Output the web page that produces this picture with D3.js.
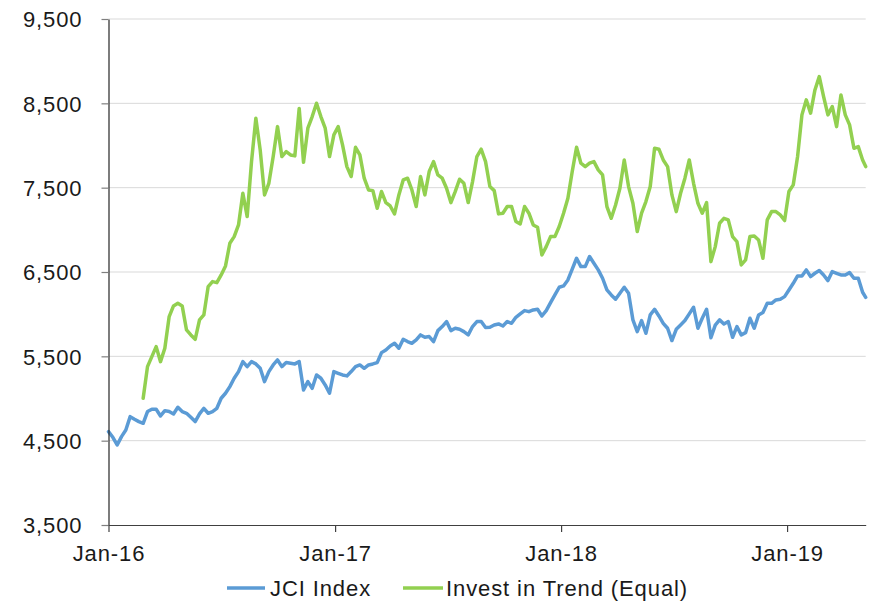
<!DOCTYPE html>
<html>
<head>
<meta charset="utf-8">
<script src="https://cdn.jsdelivr.net/npm/d3@7"></script>
<style>
  html, body { margin: 0; padding: 0; background: #fff; }
  svg { display: block; }
  text { font-family: "Liberation Sans", Arial, sans-serif; font-size: 22px; fill: #1a1a1a; letter-spacing: 0.9px; }
</style>
</head>
<body>
<svg id="chart" width="874" height="602"></svg>
<script>
// ---- data (weekly observations, Fridays from 1 Jan 2016, plus final day) ----
const firstDate = "2016-01-01";
const lastWeekly = "2019-05-04"; // exclusive end of weekly range
const finalDate = "2019-05-08";

const seriesNames = ["JCI Index", "Invest in Trend (Equal)"];

const jciValues = [
  4607,4540,4449,4548,4627,4785,4754,4726,4706,4845,
  4872,4872,4793,4856,4845,4817,4896,4845,4825,4777,
  4726,4817,4884,4825,4845,4884,5003,5062,5141,5240,
  5319,5437,5378,5437,5410,5358,5200,5319,5398,5457,
  5378,5426,5418,5410,5437,5101,5200,5121,5279,5240,
  5161,5062,5319,5299,5279,5268,5319,5378,5398,5358,
  5398,5410,5426,5544,5576,5623,5655,5596,5702,5675,
  5655,5694,5754,5726,5734,5675,5805,5853,5912,5805,
  5833,5821,5793,5754,5853,5912,5912,5841,5845,5872,
  5884,5860,5912,5892,5963,6003,6042,6030,6050,6058,
  5979,6042,6137,6228,6319,6335,6406,6533,6663,6564,
  6564,6683,6604,6525,6426,6287,6228,6177,6248,6319,
  6248,5932,5793,5924,5773,5991,6058,5979,5892,5833,
  5687,5821,5872,5924,6003,6082,5833,5952,6058,5720,
  5870,5932,5884,5912,5726,5853,5754,5781,5952,5833,
  5991,6019,6129,6129,6169,6177,6208,6287,6366,6453,
  6453,6525,6446,6485,6517,6465,6398,6505,6485,6465,
  6465,6493,6426,6426,6260,
  6200
];

const trendValues = [
  null,null,null,null,null,null,null,null,5003,5378,
  5497,5615,5437,5596,5971,6098,6129,6098,5813,5754,
  5702,5932,5991,6327,6386,6374,6465,6572,6841,6920,
  7058,7434,7157,7809,8323,7948,7414,7552,7869,8224,
  7869,7928,7888,7877,8440,7800,8205,8343,8501,8343,
  8205,7869,8126,8224,8007,7750,7632,7979,7888,7612,
  7473,7465,7256,7454,7323,7283,7189,7414,7592,7612,
  7473,7276,7632,7414,7691,7809,7651,7612,7493,7323,
  7454,7600,7552,7323,7572,7869,7956,7809,7513,7465,
  7189,7197,7276,7276,7098,7070,7276,7197,7058,7031,
  6702,6801,6920,6920,7039,7197,7375,7691,7979,7790,
  7750,7790,7809,7711,7651,7276,7137,7295,7493,7829,
  7513,7315,6979,7197,7335,7513,7967,7956,7829,7750,
  7414,7216,7434,7612,7829,7552,7315,7197,7323,6623,
  6801,7078,7137,7118,6920,6861,6584,6643,6920,6928,
  6880,6663,7118,7216,7216,7177,7110,7454,7533,7869,
  8363,8541,8383,8659,8817,8580,8363,8462,8224,8600,
  8363,8244,7967,7987,7829,
  7750
];

const yTicks = [3500, 4500, 5500, 6500, 7500, 8500, 9500];
const xTickDates = ["2016-01-01", "2017-01-01", "2018-01-01", "2019-01-01"];
const colors = ["#5B9BD5", "#92D050"];

// ---- layout ----
const svg = d3.select("#chart");
const mLeft = 108.5, mRight = 865.7, mTop = 19, mBottom = 525;
const parse = d3.timeParse("%Y-%m-%d");

const dates = d3.timeDay.range(parse(firstDate), parse(lastWeekly), 7).concat([parse(finalDate)]);

const x = d3.scaleTime().domain([parse(firstDate), parse(finalDate)]).range([mLeft, mRight]);
const y = d3.scaleLinear().domain([3500, 9500]).range([mBottom, mTop]);

// gridlines
svg.append("g").selectAll("line")
  .data(yTicks.filter(t => t > 3500))
  .join("line")
  .attr("x1", mLeft).attr("x2", mRight)
  .attr("y1", d => y(d)).attr("y2", d => y(d))
  .attr("stroke", "#d9d9d9").attr("stroke-width", 1);

// lines
const series = [jciValues, trendValues];
series.forEach((vals, i) => {
  const pts = dates.map((d, j) => ({ d, v: vals[j] }));
  const line = d3.line()
    .defined(p => p.v !== null && p.v !== undefined)
    .x(p => x(p.d)).y(p => y(p.v));
  svg.append("path")
    .datum(pts)
    .attr("fill", "none")
    .attr("stroke", colors[i])
    .attr("stroke-width", 3.5)
    .attr("stroke-linejoin", "round")
    .attr("stroke-linecap", "round")
    .attr("d", line);
});

// y axis
const yAxis = d3.axisLeft(y)
  .tickValues(yTicks)
  .tickFormat(d3.format(","))
  .tickSizeInner(7).tickSizeOuter(0).tickPadding(19);
const gy = svg.append("g").attr("transform", `translate(${mLeft},0)`).call(yAxis);
gy.select(".domain").attr("stroke", "#262626").attr("stroke-width", 1.2);
gy.selectAll(".tick line").attr("stroke", "#7f7f7f").attr("stroke-width", 1.2);
gy.selectAll(".tick text").attr("dy", "0.35em").attr("font-family", null).attr("font-size", null).attr("fill", "#1a1a1a");

// x axis
const xAxis = d3.axisBottom(x)
  .tickValues(xTickDates.map(parse))
  .tickFormat(d3.timeFormat("%b-%y"))
  .tickSizeInner(7).tickSizeOuter(0).tickPadding(13);
const gx = svg.append("g").attr("transform", `translate(0,${mBottom})`).call(xAxis);
gx.select(".domain").attr("stroke", "#404040").attr("stroke-width", 1.2);
gx.selectAll(".tick line").attr("stroke", "#404040").attr("stroke-width", 1.2);
gx.selectAll(".tick text").attr("font-family", null).attr("font-size", null).attr("fill", "#1a1a1a");

// legend
const legendItems = [
  { name: seriesNames[0], color: colors[0], x1: 227, x2: 265, tx: 270 },
  { name: seriesNames[1], color: colors[1], x1: 403, x2: 443, tx: 446 }
];
const lg = svg.append("g");
legendItems.forEach(it => {
  lg.append("line").attr("x1", it.x1).attr("x2", it.x2).attr("y1", 588).attr("y2", 588)
    .attr("stroke", it.color).attr("stroke-width", 3.5);
  lg.append("text").attr("x", it.tx).attr("y", 596).text(it.name);
});
</script>
</body>
</html>
